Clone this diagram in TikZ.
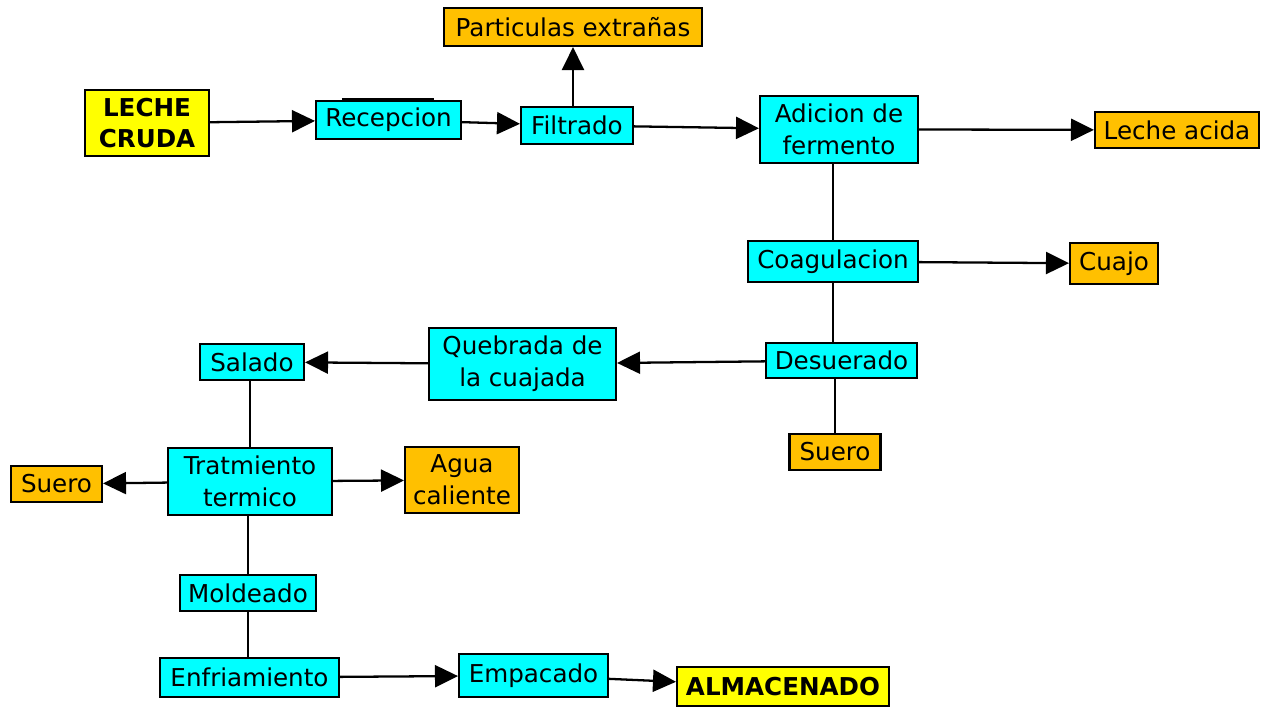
\documentclass[tikz,border=0pt]{standalone}
\usepackage{fontspec}
\setmainfont{DejaVu Sans}
\usepackage{tikz}
\usetikzlibrary{arrows.meta,shapes,positioning}
\usepackage{xcolor}
\definecolor{pcyan}{RGB}{0,255,255}
\definecolor{porange}{RGB}{255,192,0}
\definecolor{pyellow}{RGB}{255,255,0}
\tikzstyle{arrow} = [line width=1.3pt,-{Triangle[length=0.46cm,width=0.44cm]}]
\tikzstyle{link} = [line width=1.3pt]
\tikzstyle{proc} = [draw, line width=1.2pt, fill=pcyan, align=center, inner sep=0pt, font=\fontsize{14}{18}\selectfont]
\tikzstyle{waste} = [proc, fill=porange]
\tikzstyle{ends} = [proc, fill=pyellow, font=\fontsize{14}{18}\selectfont\bfseries]

\begin{document}
\begin{tikzpicture}[x=0.02cm, y=-0.02cm]
\useasboundingbox (0,0) rectangle (1263,707);

% Main line
\node[ends, minimum width=2.48cm, minimum height=1.32cm] (leche) at (147,123) {LECHE\\CRUDA};
\node[proc, minimum width=2.9cm, minimum height=0.76cm] (rec) at (388.5,120) {Recepcion};
\node[proc, minimum width=2.24cm, minimum height=0.74cm] (filt) at (577,125.5) {Filtrado};
\node[waste, minimum width=5.16cm, minimum height=0.76cm] (part) at (573,27) {Particulas extrañas};
\node[proc, minimum width=3.16cm, minimum height=1.34cm] (adic) at (839,129.5) {Adicion de\\fermento};
\node[waste, minimum width=3.28cm, minimum height=0.72cm] (acida) at (1177,130) {Leche acida};
\node[proc, minimum width=3.4cm, minimum height=0.82cm] (coag) at (833,261.5) {Coagulacion};
\node[waste, minimum width=1.76cm, minimum height=0.82cm] (cuajo) at (1114,263.5) {Cuajo};
\node[proc, minimum width=3.02cm, minimum height=0.7cm] (deser) at (841.5,360.5) {Desuerado};
\node[waste, minimum width=1.82cm, minimum height=0.72cm] (suero) at (835,452) {Suero};

% Back to the left
\node[proc, minimum width=3.74cm, minimum height=1.44cm] (queb) at (522.5,364) {Quebrada de\\la cuajada};
\node[proc, minimum width=2.08cm, minimum height=0.72cm] (salado) at (252,362) {Salado};
\node[proc, minimum width=3.28cm, minimum height=1.34cm] (trat) at (250,481.5) {Tratmiento\\termico};
\node[waste, minimum width=1.82cm, minimum height=0.72cm] (sueroB) at (56.5,484) {Suero};
\node[waste, minimum width=2.28cm, minimum height=1.32cm] (agua) at (462,480) {Agua\\caliente};
\node[proc, minimum width=2.72cm, minimum height=0.72cm] (mold) at (248,593) {Moldeado};
\node[proc, minimum width=3.58cm, minimum height=0.78cm] (enfr) at (249.5,677.5) {Enfriamiento};
\node[proc, minimum width=2.98cm, minimum height=0.86cm] (empac) at (533.5,675.5) {Empacado};
\node[ends, minimum width=4.24cm, minimum height=0.78cm] (alma) at (783,686.5) {ALMACENADO};

% Mark on top of Recepcion
\draw[line width=1.6pt] ([xshift=0.54cm,yshift=0.02cm]rec.north west) -- ([xshift=-0.56cm,yshift=0.02cm]rec.north east);

% Arrows
\draw[arrow] (leche) -- (rec);
\draw[arrow] (rec) -- (filt);
\draw[arrow] (part |- filt.north) -- (part);
\draw[arrow] (filt) -- (adic);
\draw[arrow] (adic.east) -- (acida);
\draw[link] (coag) -- (coag |- adic.south);
\draw[arrow] (coag) -- (cuajo);
\draw[link] (deser.north -| coag) -- (coag);
\draw[link] (suero) -- (suero |- deser.south);
\draw[arrow] (deser) -- (queb);
\draw[arrow] (queb) -- (salado);
\draw[link] (trat) -- (trat |- salado.south);
\draw[arrow] (trat) -- (sueroB);
\draw[arrow] (trat) -- (agua);
\draw[link] (mold) -- (mold |- trat.south);
\draw[link] (mold) -- (mold |- enfr.north);
\draw[arrow] (enfr) -- (empac);
\draw[arrow] (empac) -- (alma);
\end{tikzpicture}
\end{document}
